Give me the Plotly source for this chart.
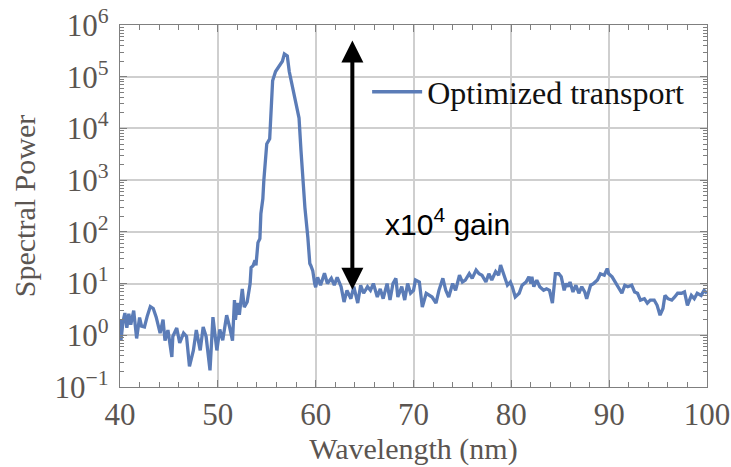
import plotly.graph_objects as go

# Wavelength (nm)
wavelength = [
    40.0, 40.1, 40.3, 40.5, 40.7, 40.9, 41.1, 41.4, 41.7, 42.0, 42.2, 42.5, 42.8, 43.1, 43.4, 43.7,
    44.1, 44.4, 44.6, 44.9, 45.3, 45.4, 45.8, 46.1, 46.5, 46.8, 47.1, 47.5, 47.8, 48.2, 48.5, 48.8,
    49.2, 49.5, 49.9, 50.2, 50.5, 50.9, 51.2, 51.5, 51.7, 51.8, 52.0, 52.2, 52.5, 52.7, 53.0, 53.3,
    53.4, 53.6, 53.8, 53.9, 54.1, 54.3, 54.4, 54.6, 54.7, 54.8, 55.0, 55.3, 55.5, 55.6, 55.9, 56.3,
    56.6, 56.8, 57.1, 57.3, 57.7, 58.0, 58.3, 58.5, 58.7, 58.9, 59.2, 59.4, 59.5, 59.7, 59.9, 60.0,
    60.2, 60.5, 60.9, 61.2, 61.6, 61.9, 62.2, 62.6, 62.9, 63.2, 63.6, 63.9, 64.3, 64.6, 64.9, 65.3,
    65.6, 65.9, 66.3, 66.6, 66.9, 67.3, 67.6, 67.9, 68.2, 68.4, 68.8, 69.1, 69.4, 69.7, 70.0, 70.2,
    70.6, 70.9, 71.3, 71.6, 71.9, 72.3, 72.6, 73.0, 73.3, 73.6, 74.0, 74.3, 74.7, 75.0, 75.3, 75.7,
    76.0, 76.4, 76.7, 77.0, 77.4, 77.7, 78.0, 78.4, 78.7, 78.9, 79.2, 79.6, 79.9, 80.1, 80.4, 80.8,
    81.1, 81.5, 81.8, 82.0, 82.1, 82.3, 82.6, 82.9, 83.3, 83.6, 83.9, 84.2, 84.5, 84.85, 85.1, 85.4,
    85.6, 85.8, 86.0, 86.3, 86.6, 86.9, 87.2, 87.5, 87.7, 88.1, 88.4, 88.8, 89.1, 89.5, 89.8, 89.95,
    90.3, 90.6, 90.95, 91.3, 91.6, 91.9, 92.3, 92.6, 92.9, 93.2, 93.6, 93.9, 94.2, 94.6, 94.9, 95.2,
    95.5, 95.7, 96.0, 96.4, 96.7, 97.0, 97.4, 97.7, 98.0, 98.4, 98.7, 99.0, 99.4, 99.7, 100.0,
]

# Spectral power (optimized transport)
spectral_power = [
    2.0, 0.8, 1.8, 2.7, 1.4, 2.6, 1.6, 3.0, 0.87, 2.2, 1.5, 1.45, 2.4, 3.6, 3.3, 2.24,
    1.1, 2.0, 0.79, 1.26, 0.38, 0.95, 1.38, 0.71, 1.1, 0.95, 0.25, 0.51, 1.26, 0.51, 1.45, 0.95,
    0.21, 2.24, 0.51, 1.3, 0.8, 2.45, 1.45, 0.79, 4.8, 2.0, 4.2, 2.5, 7.9, 3.5, 4.4, 10.0,
    20.4, 22.0, 28.2, 22.4, 62.0, 74.0, 224.0, 437.0, 977.0, 1514.0, 5012.0, 6310.0, 25120.0, 83180.0, 125900.0, 158500.0,
    199500.0, 275400.0, 251200.0, 125900.0, 52480.0, 29510.0, 15850.0, 3715.0, 977.0, 295.0, 78.0, 24.5, 22.4, 17.8, 10.0, 8.5,
    13.2, 9.3, 15.8, 10.0, 12.6, 9.3, 13.2, 8.7, 4.4, 7.4, 5.1, 8.7, 4.2, 9.3, 6.5, 8.7,
    7.4, 10.0, 5.5, 7.9, 5.1, 10.0, 4.8, 10.0, 12.6, 5.5, 8.7, 4.8, 10.0, 6.5, 7.4, 11.7,
    10.7, 3.5, 6.5, 5.9, 5.5, 4.2, 7.4, 12.6, 7.4, 5.5, 10.0, 7.4, 14.5, 10.7, 11.7, 15.5,
    12.6, 18.2, 15.5, 14.5, 10.7, 15.5, 11.7, 17.0, 14.5, 22.9, 15.5, 9.3, 10.7, 8.7, 5.5, 6.5,
    9.3, 10.7, 13.5, 10.0, 13.5, 8.7, 11.7, 8.7, 7.4, 7.9, 7.4, 4.2, 15.5, 15.5, 13.5, 7.4,
    10.0, 8.7, 10.7, 6.9, 9.3, 6.5, 8.7, 6.9, 5.1, 9.3, 10.0, 11.7, 15.5, 14.5, 19.5, 15.5,
    13.5, 10.7, 8.7, 6.5, 9.3, 8.7, 9.3, 6.9, 6.5, 4.8, 5.1, 4.2, 4.8, 4.8, 3.8, 2.45,
    3.3, 5.9, 5.1, 4.8, 5.5, 6.5, 6.5, 6.9, 3.8, 5.9, 5.1, 6.5, 5.9, 7.4, 6.5,
]

x_ticks = [40, 50, 60, 70, 80, 90, 100]
y_tickvals = [0.1, 1, 10, 100, 1000, 10000, 100000, 1000000]
y_ticktext = ["10<sup>\u22121</sup>", "10<sup>0</sup>", "10<sup>1</sup>", "10<sup>2</sup>",
              "10<sup>3</sup>", "10<sup>4</sup>", "10<sup>5</sup>", "10<sup>6</sup>"]

series_name = "Optimized transport"
gain_text = "x10<sup>4</sup> gain"
# arrow: wavelength, and log10 of its two ends
arrow_x = 63.75
arrow_top_log = 5.7
arrow_bottom_log = 0.85
gain_x = 66.9
gain_y_log = 2.2

serif = "Liberation Serif, Times New Roman, serif"
tick_col = "#5b5551"
grid_col = "#cfcfcf"
frame_col = "#7f7f7f"

fig = go.Figure()
fig.add_trace(go.Scatter(
    x=wavelength, y=spectral_power, mode="lines", name=series_name,
    line=dict(color="#5b7cb7", width=3.3),
))

fig.update_layout(
    width=731, height=467,
    margin=dict(l=120, r=24, t=25, b=80),
    paper_bgcolor="white", plot_bgcolor="white",
    showlegend=True,
    legend=dict(x=0.421, y=0.815, xanchor="left", yanchor="middle",
                bgcolor="rgba(0,0,0,0)", font=dict(family=serif, size=32, color="#111111"),
                itemwidth=50, tracegroupgap=0),
    font=dict(family=serif, color=tick_col),
)

fig.update_xaxes(
    range=[40, 100], tickvals=x_ticks, showgrid=True, gridcolor=grid_col, gridwidth=1.5,
    showline=True, linecolor=frame_col, linewidth=1.2, mirror="allticks",
    ticks="inside", ticklen=7, tickcolor=frame_col, automargin=False,
    minor=dict(dtick=2, ticks="inside", ticklen=5, tickcolor=frame_col, showgrid=False),
    tickfont=dict(family=serif, size=31, color=tick_col),
    title=dict(text="Wavelength (nm)", font=dict(family=serif, size=30, color=tick_col), standoff=6),
    zeroline=False,
)
fig.update_yaxes(
    type="log", range=[-1, 6], tickvals=y_tickvals, ticktext=y_ticktext,
    showgrid=True, gridcolor=grid_col, gridwidth=1.5,
    showline=True, linecolor=frame_col, linewidth=1.2, mirror="allticks",
    ticks="inside", ticklen=7, tickcolor=frame_col, automargin=False,
    ticklabelstandoff=4,
    minor=dict(dtick="D1", ticks="inside", ticklen=4, tickcolor=frame_col, showgrid=False),
    tickfont=dict(family=serif, size=31, color=tick_col),
    title=dict(text="Spectral Power", font=dict(family=serif, size=30, color=tick_col), standoff=10),
    zeroline=False,
)

fig.add_annotation(
    x=arrow_x, y=arrow_top_log, ax=arrow_x, ay=arrow_bottom_log,
    xref="x", yref="y", axref="x", ayref="y",
    text="", showarrow=True, arrowhead=2, arrowside="end+start",
    arrowwidth=4, arrowsize=1.1, arrowcolor="black",
)
fig.add_annotation(
    x=gain_x, y=gain_y_log, xref="x", yref="y", text=gain_text, showarrow=False,
    xanchor="left", yanchor="middle",
    font=dict(family="Liberation Sans, Arial, sans-serif", size=30, color="black"),
)

fig.write_html("out.html")
